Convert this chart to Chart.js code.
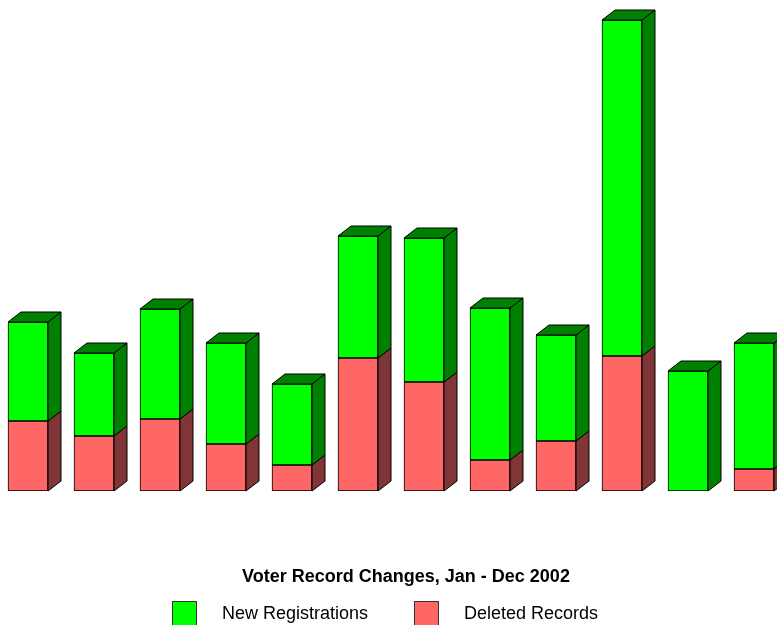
<!DOCTYPE html>
<html>
<head>
<meta charset="utf-8">
<script src="https://cdn.jsdelivr.net/npm/chart.js@4"></script>
<style>
  html, body { margin: 0; padding: 0; background: #fff; }
  #wrap { width: 777px; height: 625px; position: relative; }
</style>
</head>
<body>
<div id="wrap"><canvas id="grafico"></canvas></div>
<script>
// months Jan..Dec 2002 (no axis labels shown in the picture)
const meses = ["Jan", "Feb", "Mar", "Apr", "May", "Jun", "Jul", "Aug", "Sep", "Oct", "Nov", "Dec"];
// values (no scale printed, so in the picture's own units)
const borrados = [70, 55, 72, 47, 26, 133, 109, 31, 50, 135, 0, 22];
const nuevos   = [99, 83, 110, 101, 81, 122, 144, 152, 106, 336, 120, 126];

const titulo = "Voter Record Changes, Jan - Dec 2002";
const etiquetas = ["New Registrations", "Deleted Records"];

const VERDE = "#00ff00", VERDE_OSC = "#008000";
const ROJO = "#ff6666", ROJO_OSC = "#803636";

const aPuntos = (valores) => valores.map((v, i) => ({ x: i, y: v }));

// dibuja las caras laterales y superiores de cada barra
const efecto3d = {
    id: "efecto3d",
    afterDatasetsDraw(chart) {
        const ctx = chart.ctx;
        const dx = 13, dy = 10;
        const oscuros = [ROJO_OSC, VERDE_OSC];
        ctx.save();
        ctx.lineWidth = 1;
        ctx.strokeStyle = "#000";
        chart.data.datasets.forEach((ds, d) => {
            const meta = chart.getDatasetMeta(d);
            meta.data.forEach((bar, i) => {
                const p = bar.getProps(["x", "y", "base", "width"], true);
                if (Math.abs(p.base - p.y) < 0.5) return;
                const izq = p.x - p.width / 2, der = p.x + p.width / 2;
                ctx.fillStyle = oscuros[d];
                ctx.beginPath();
                ctx.moveTo(der, p.y);
                ctx.lineTo(der + dx, p.y - dy);
                ctx.lineTo(der + dx, p.base - dy);
                ctx.lineTo(der, p.base);
                ctx.closePath();
                ctx.fill();
                ctx.stroke();
                // cara superior solo en el segmento mas alto
                const arriba = d === chart.data.datasets.length - 1;
                if (arriba) {
                    ctx.fillStyle = VERDE_OSC;
                    ctx.beginPath();
                    ctx.moveTo(izq, p.y);
                    ctx.lineTo(izq + dx, p.y - dy);
                    ctx.lineTo(der + dx, p.y - dy);
                    ctx.lineTo(der, p.y);
                    ctx.closePath();
                    ctx.fill();
                    ctx.stroke();
                }
            });
        });
        ctx.restore();
    },
    afterDraw(chart) {
        const ctx = chart.ctx;
        ctx.save();
        ctx.fillStyle = "#000";
        ctx.textBaseline = "middle";
        ctx.textAlign = "center";
        ctx.font = "bold 18px 'Liberation Sans', Arial, sans-serif";
        ctx.fillText(titulo, 406, 577);
        // leyenda
        const cajas = [[172, VERDE], [414, ROJO]];
        ctx.textAlign = "left";
        ctx.font = "18px 'Liberation Sans', Arial, sans-serif";
        cajas.forEach(([x, color], k) => {
            ctx.fillStyle = color;
            ctx.fillRect(x + 0.5, 601.5, 24, 30);
            ctx.strokeStyle = "#333";
            ctx.lineWidth = 1;
            ctx.strokeRect(x + 0.5, 601.5, 24, 30);
            ctx.fillStyle = "#000";
            ctx.fillText(etiquetas[k], x + 50, 614);
        });
        ctx.restore();
    },
};

new Chart(document.getElementById("grafico"), {
    type: "bar",
    data: {
        labels: meses,
        datasets: [
            { label: etiquetas[1], data: aPuntos(borrados), backgroundColor: ROJO, borderColor: "#000", borderWidth: 1, borderSkipped: false, barThickness: 40 },
            { label: etiquetas[0], data: aPuntos(nuevos), backgroundColor: VERDE, borderColor: "#000", borderWidth: 1, borderSkipped: false, barThickness: 40 },
        ],
    },
    options: {
        responsive: true,
        maintainAspectRatio: false,
        animation: false,
        layout: { padding: { left: 0, right: 0, top: 0, bottom: 134 } },
        plugins: { legend: { display: false }, title: { display: false }, tooltip: { enabled: false } },
        scales: {
            x: { type: "linear", display: false, stacked: true, min: -28 / 66, max: 11 + 23 / 66, offset: false },
            y: { display: false, stacked: true, min: 0, max: 491 },
        },
    },
    plugins: [efecto3d],
});
</script>
</body>
</html>
